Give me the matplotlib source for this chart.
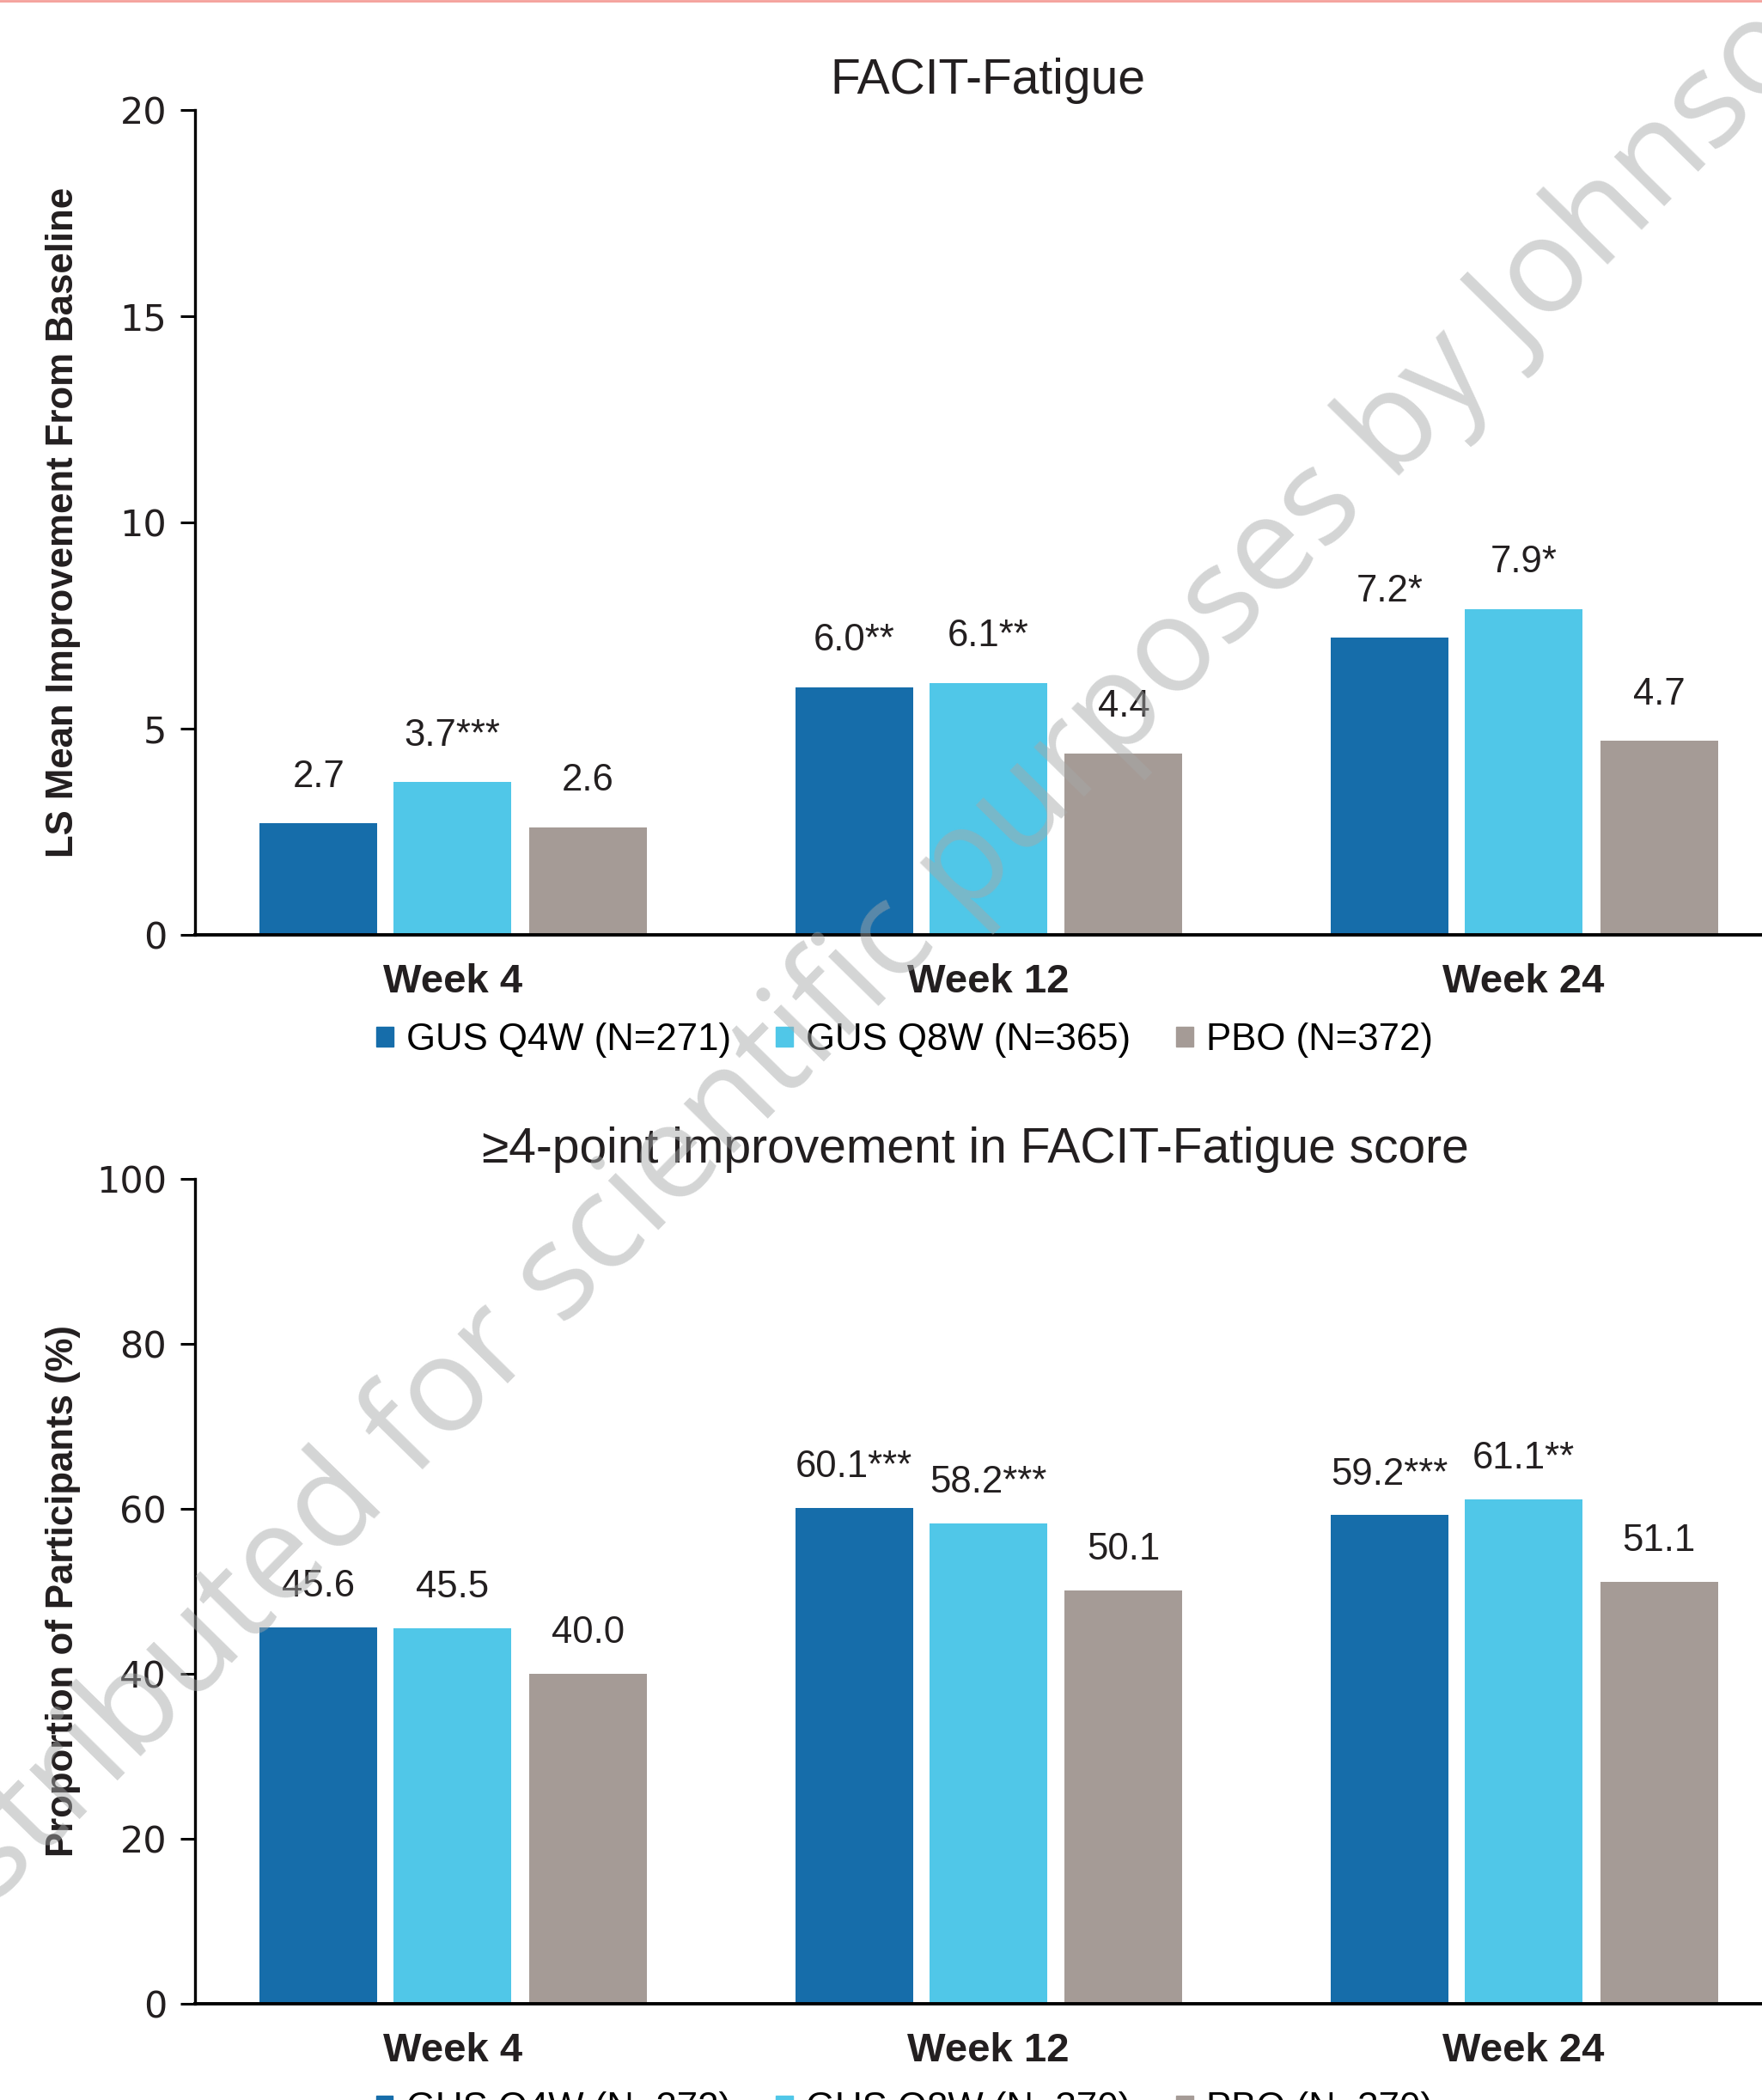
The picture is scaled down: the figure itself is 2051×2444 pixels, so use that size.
import numpy as np
import matplotlib
matplotlib.use("Agg")
import matplotlib.pyplot as plt
from matplotlib.patches import Patch

# data
weeks = ["Week 4", "Week 12", "Week 24"]
series_top = ["GUS Q4W (N=271)", "GUS Q8W (N=365)", "PBO (N=372)"]
series_bot = ["GUS Q4W (N=272)", "GUS Q8W (N=370)", "PBO (N=370)"]

top_q4w = [2.7, 6.0, 7.2]
top_q8w = [3.7, 6.1, 7.9]
top_pbo = [2.6, 4.4, 4.7]
top_q4w_lab = ["2.7", "6.0**", "7.2*"]
top_q8w_lab = ["3.7***", "6.1**", "7.9*"]
top_pbo_lab = ["2.6", "4.4", "4.7"]

bot_q4w = [45.6, 60.1, 59.2]
bot_q8w = [45.5, 58.2, 61.1]
bot_pbo = [40.0, 50.1, 51.1]
bot_q4w_lab = ["45.6", "60.1***", "59.2***"]
bot_q8w_lab = ["45.5", "58.2***", "61.1**"]
bot_pbo_lab = ["40.0", "50.1", "51.1"]

colors = ["#166daa", "#50c7e8", "#a59b96"]
txt = "#231f20"
main_font = ["Liberation Sans", "DejaVu Sans"]
tick_font = ["DejaVu Sans"]

fig = plt.figure(figsize=(20.51, 24.44), dpi=100)

def panel(rect, vals, labs, names, ymax, ystep, title, title_x, ylabel, lab_off):
    ax = fig.add_axes(rect)
    x = np.arange(len(weeks))
    offs = [-0.25, 0.0, 0.253]
    for v, l, o, c in zip(vals, labs, offs, colors):
        bars = ax.bar(x + o, v, width=0.22, color=c, zorder=2)
        for b, t in zip(bars, l):
            ax.annotate(t, (b.get_x() + b.get_width() / 2, b.get_height()),
                        xytext=(0, lab_off), textcoords="offset points",
                        ha="center", va="center", fontsize=31.5, color=txt,
                        family=main_font)
    ax.set_xlim(-0.48, 2.445)
    ax.set_ylim(0, ymax)
    ax.set_yticks(np.arange(0, ymax + 1, ystep))
    ax.set_xticks(x)
    ax.set_xticklabels(weeks, fontsize=34, fontweight="bold", color=txt,
                       family=main_font)
    for t in ax.get_yticklabels():
        t.set_family(tick_font)
        t.set_fontsize(31)
        t.set_color(txt)
    ax.tick_params(axis="x", length=0, pad=24)
    ax.tick_params(axis="y", length=12, width=2.2, pad=12, direction="out")
    for s in ["top", "right"]:
        ax.spines[s].set_visible(False)
    ax.spines["left"].set_linewidth(2.4)
    ax.spines["bottom"].set_linewidth(2.8)
    ax.set_ylabel(ylabel, fontsize=31.5, fontweight="bold", color=txt,
                  family=main_font)
    ax.yaxis.label.set_va("center")
    ax.yaxis.set_label_coords(-0.0847, 0.5)
    ax.text(title_x, 1.035, title, transform=ax.transAxes, ha="center",
            va="center", fontsize=41, color=txt, family=main_font)
    handles = [Patch(color=c) for c in colors]
    ax.legend(handles, names, loc="center", bbox_to_anchor=(0.4527, -0.128),
              ncol=3, frameon=False, handlelength=0.45,
              handleheight=0.45, handletextpad=0.35, columnspacing=1.2,
              prop={"family": main_font, "size": 31.5})
    return ax

panel([0.1109, 0.5549, 0.8891, 0.3928],
      [top_q4w, top_q8w, top_pbo], [top_q4w_lab, top_q8w_lab, top_pbo_lab],
      series_top, 20, 5, "FACIT-Fatigue", 0.506,
      "LS Mean Improvement From Baseline", 39)

panel([0.1109, 0.0460, 0.8891, 0.3928],
      [bot_q4w, bot_q8w, bot_pbo], [bot_q4w_lab, bot_q8w_lab, bot_pbo_lab],
      series_bot, 100, 20, "\u22654-point improvement in FACIT-Fatigue score", 0.498,
      "Proportion of Participants (%)", 34)

# pink rule at the top
fig.add_artist(plt.Line2D([0, 1], [0.9994, 0.9994], transform=fig.transFigure,
                          color="#f4a09a", lw=2))

# watermark
fig.text(0.622, 0.650, "Distributed for scientific purposes by Johnson & Johnson",
         rotation=45.5, rotation_mode="anchor", ha="center", va="center",
         fontsize=111, color="#a5a8a8", alpha=0.48, family=["Open Sans", "DejaVu Sans"],
         zorder=10)

fig.savefig("out.png", dpi=100)
